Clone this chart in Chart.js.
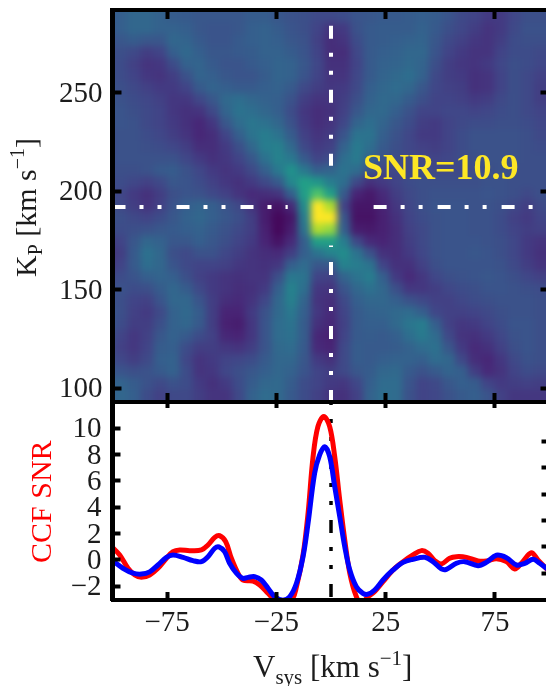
<!DOCTYPE html>
<html><head><meta charset="utf-8">
<script src="https://cdn.jsdelivr.net/npm/chart.js@4"></script>
<style>
html,body{margin:0;padding:0;background:#fff;width:546px;height:686px;overflow:hidden}
canvas{position:absolute;left:0}
#wrap{position:relative;width:546px;height:686px;overflow:hidden}
</style></head><body><div id="wrap">
<canvas id="lower" width="570" height="296" style="top:390px"></canvas>
<canvas id="upper" width="570" height="420" style="top:0"></canvas>
</div>
<script>
const kpRows=[294,288,282,276,270,264,258,252,246,240,234,228,222,216,210,204,198,192,186,180,174,168,162,156,150,144,138,132,126,120,114,108,102,96,90];
const vsysCols=[-102,-96,-90,-84,-78,-72,-66,-60,-54,-48,-42,-36,-30,-24,-18,-12,-6,0,6,12,18,24,30,36,42,48,54,60,66,72,78,84,90,96,102];
const heatLevels=[
[28,30,33,33,31,29,28,27,27,27,27,29,29,27,25,24,22,22,23,26,27,28,28,29,30,29,26,22,20,17,17,21,24,24,24],
[28,30,33,33,31,29,28,27,27,27,27,29,29,27,25,24,22,22,23,26,27,28,28,29,30,29,26,22,20,17,17,21,24,24,24],
[27,30,33,33,31,31,30,27,26,26,27,30,31,29,26,24,20,15,17,25,28,29,29,29,31,28,24,21,18,15,17,22,25,25,25],
[25,27,29,27,27,33,32,28,26,26,28,30,31,30,27,25,19,13,15,23,28,29,30,31,32,27,22,19,16,15,18,23,24,24,24],
[24,24,22,18,20,30,34,30,27,27,28,29,31,31,29,26,20,13,13,21,28,30,31,33,33,26,20,17,15,15,20,23,23,22,22],
[24,23,19,15,16,23,31,32,28,26,26,28,30,32,31,27,21,14,14,20,28,31,32,34,32,24,18,16,15,17,21,24,23,21,21],
[25,23,20,16,15,18,25,32,30,27,26,26,29,32,31,26,20,15,15,21,28,32,34,36,31,22,18,17,14,15,20,24,22,19,19],
[26,24,22,19,17,17,20,28,32,30,28,28,30,31,28,22,18,16,17,22,30,33,35,33,27,21,19,18,14,15,20,24,22,18,18],
[27,25,23,21,19,16,16,21,27,34,36,33,31,30,25,18,15,15,18,24,31,34,33,29,24,20,20,19,17,18,22,24,22,18,18],
[27,26,24,22,20,16,14,15,22,32,38,36,33,30,23,16,13,14,19,27,33,34,30,25,20,20,21,21,20,21,23,24,22,20,20],
[26,26,25,22,20,17,14,11,16,27,35,39,37,33,25,17,13,15,21,32,36,32,27,23,18,17,20,22,23,23,24,24,23,21,21],
[24,25,25,23,21,18,15,11,13,20,30,38,42,38,29,19,15,17,26,38,38,30,25,21,17,17,20,23,25,25,25,25,24,22,22],
[23,25,25,24,23,21,18,13,13,17,24,33,42,43,34,22,17,19,31,41,36,28,24,21,19,18,20,23,25,25,25,25,24,23,23],
[24,25,25,25,25,25,21,17,14,16,20,27,37,44,40,28,20,23,36,41,31,25,23,22,21,20,21,23,24,25,25,25,24,24,24],
[24,24,24,25,28,29,25,21,17,15,17,22,30,40,50,40,30,32,38,35,25,21,21,22,23,22,22,22,23,24,25,24,24,24,24],
[23,23,21,19,22,27,26,23,19,16,14,17,22,28,46,56,52,42,36,22,14,17,20,23,24,24,24,24,24,25,25,24,24,24,24],
[24,21,17,14,18,24,26,25,22,19,15,12,13,15,30,55,72,56,28,10,7,12,18,22,24,25,25,25,25,26,25,24,22,24,24],
[25,22,18,15,19,26,30,32,30,26,22,15,8,5,12,48,100,88,20,6,6,10,16,21,24,26,26,26,25,25,24,21,18,22,24],
[25,24,22,20,23,27,31,33,30,27,24,18,8,2,6,42,100,100,27,5,5,9,14,20,23,25,26,26,25,25,23,19,17,20,22],
[23,23,24,25,27,28,30,31,28,25,22,18,9,2,8,38,88,84,30,8,7,9,13,19,22,25,26,26,25,25,23,20,18,19,19],
[17,20,27,33,31,27,27,30,27,24,20,17,10,5,12,30,56,56,42,22,12,10,13,18,22,25,26,26,26,25,24,21,17,15,15],
[14,18,28,37,33,24,22,25,25,21,18,15,13,12,18,30,38,44,48,38,25,14,13,17,21,25,26,26,27,26,24,21,17,14,14],
[15,20,28,36,33,26,22,20,20,19,16,15,14,16,30,35,27,27,44,42,38,20,14,14,19,24,26,26,26,26,25,22,18,15,15],
[20,23,26,30,32,30,24,19,17,15,14,15,15,24,40,38,20,19,32,38,42,30,17,12,16,21,24,25,26,27,26,24,21,19,19],
[24,25,23,24,29,33,29,22,17,15,13,14,17,30,44,36,16,15,26,33,37,33,24,16,16,18,21,23,24,26,26,25,24,23,23],
[26,24,20,19,26,33,33,26,18,13,12,15,21,33,43,32,15,13,22,30,33,33,30,25,22,19,19,21,23,24,25,25,25,24,24],
[28,24,19,17,22,31,34,29,18,10,10,17,25,34,40,30,16,12,20,28,31,32,34,35,30,21,19,19,20,22,24,25,25,24,24],
[28,23,18,18,24,31,33,28,18,9,8,16,26,35,38,29,14,11,19,28,30,30,34,39,42,30,19,16,17,20,23,26,26,24,24],
[26,20,16,19,27,31,28,23,19,11,10,16,26,35,37,29,11,9,20,28,29,28,30,36,41,35,22,15,14,17,21,25,26,24,24],
[24,19,16,20,29,30,23,18,18,16,15,18,26,34,35,28,12,10,22,29,28,28,29,31,35,37,27,17,12,14,19,24,26,24,24],
[25,21,18,22,30,31,21,15,17,20,21,23,28,33,33,27,17,14,22,29,28,30,31,31,30,35,33,22,13,11,16,22,25,24,24],
[28,26,24,25,28,31,23,15,16,21,24,27,30,33,31,26,20,18,22,27,29,33,34,28,25,28,32,30,18,12,15,20,23,22,22],
[30,32,29,25,22,25,23,17,14,17,23,29,33,34,29,23,20,17,16,21,30,35,35,26,20,22,27,30,29,20,17,18,19,18,18],
[29,33,30,23,19,22,22,18,15,15,22,31,35,34,28,23,19,15,14,19,31,36,35,25,20,21,25,28,30,26,19,16,16,16,16],
[29,33,30,23,19,22,22,18,15,15,22,31,35,34,28,23,19,15,14,19,31,36,35,25,20,21,25,28,30,26,19,16,16,16,16]
];
const viridis=[[68,1,84],[72,36,117],[65,68,135],[53,95,141],[42,120,142],[33,145,140],[34,168,132],[68,191,112],[122,209,81],[189,223,38],[253,231,37]];
const kpTicks=[100,150,200,250];
const vsysTicks=[-75,-25,25,75];
const snrTicksLeft=[-2,0,2,4,6,8,10];
const snrTicksRight=[-1,1,3,5,7,9];
const crossKp=192, crossV=0;
const hLeftV=[-100,-19.8], hRightV=[19.5,100];
const vUpperKp=[284,212.9], vLowerKp=[172.5,93];
const redV=[-100,-96.7,-92.9,-89.8,-86.8,-83,-79.2,-75.3,-72.3,-69.2,-64.7,-59.3,-56.3,-53.2,-51,-48.2,-45.6,-42.6,-40.3,-35.7,-32.6,-28.8,-25.8,-23,-18,-15.8,-12.8,-10.5,-8.2,-6,-3.3,-0.6,1.7,4,6.3,8.6,11.6,13.9,16.9,20,23.8,28.4,33,37.5,41.4,44.4,47.5,50.5,54.3,57.4,62,67.3,71.1,75.7,80.3,84.1,87.1,91.7,94.7,100];
const redSnr=[0.95,0.38,-0.63,-1.14,-1.32,-1.14,-0.63,0.13,0.63,0.76,0.71,0.76,1.14,1.72,1.85,1.39,0.13,-1.0,-1.52,-1.6,-1.9,-2.53,-3.04,-3.3,-3.04,-2.03,0.38,3.55,7.85,10.13,10.89,10.13,7.85,4.56,1.52,-1.0,-2.79,-3.3,-2.79,-2.4,-1.65,-0.76,-0.13,0.38,0.71,0.51,-0.05,-0.3,0.13,0.25,0.2,-0.08,-0.08,0.1,-0.13,-0.68,-0.25,0.55,0,-0.9];
const blueV=[-100,-95.2,-90.6,-86.8,-83,-79.2,-75.3,-72.3,-67.7,-63.2,-59.3,-56.3,-53.2,-51.3,-48.7,-46.4,-43.3,-40.3,-38,-34.9,-31.9,-28.8,-25.8,-22,-18.9,-15.8,-12.8,-10.5,-7.5,-5.2,-2.9,-0.6,1.7,4,6.3,8.6,11.6,14.6,16.9,20,23.8,28.4,33,37.5,42.9,46.7,50.5,52.8,57.4,61.2,67.3,71.1,75.7,80.3,84.9,88.7,92.5,95.5,100];
const blueSnr=[-0.05,-0.63,-1.0,-1.07,-0.9,-0.38,0.2,0.38,0.2,-0.05,-0.13,0.25,0.89,1.0,0.63,-0.25,-1.0,-1.4,-1.32,-1.27,-1.52,-2.15,-2.79,-3.05,-2.79,-1.77,0.25,2.79,6.59,7.98,8.6,7.85,5.57,3.29,1.0,-0.76,-2.03,-2.53,-2.6,-2.28,-1.52,-0.76,-0.18,0.05,0.2,-0.13,-0.68,-0.71,-0.25,-0.13,-0.43,-0.18,0.36,0.17,-0.38,-0.25,0.05,-0.25,-0.8];
const snrLabel="SNR=10.9", ccfLabel="CCF SNR";
const kpTitleRuns=[["K",30,0],["P",20,6],[" [km s",30,0],["−1",20,-12],["]",30,0]];
const vsysTitleRuns=[["V",31,0],["sys",21,7],[" [km s",31,0],["−1",21,-12],["]",31,0]];

const SERIF='"Liberation Serif"', INK='#1c1c1c';
const DASH=[13,14,4,14,4,15];
function level2color(l){const t=Math.max(0,Math.min(100,l))/10,i=Math.min(9,Math.floor(t)),f=t-i,a=viridis[i],b=viridis[i+1];
 return `rgb(${a.map((c,k)=>Math.round(c+(b[k]-c)*f)).join(',')})`;}
const heatPoints=[];kpRows.forEach((k,r)=>vsysCols.forEach((v,c)=>heatPoints.push({x:v,y:k,l:heatLevels[r][c]})));
function pts(xs,ys){return xs.map((x,i)=>({x,y:ys[i]}));}
function runs(ctx,list,x,y,rot){ctx.save();ctx.translate(x,y);ctx.rotate(rot);ctx.fillStyle=INK;ctx.textAlign='left';ctx.textBaseline='alphabetic';let px=0;
 for(const [t,s,dy] of list){ctx.font=`${s}px ${SERIF}`;ctx.fillText(t,px,dy);px+=ctx.measureText(t).width;}ctx.restore();}
function fix(prop,val){return s=>{s[prop]=val;s.paddingTop=s.paddingBottom=s.paddingLeft=s.paddingRight=0;};}
function axis(pos,size,min,max,ticks,labels,tlen,pad){
 const horiz=pos==='top'||pos==='bottom';
 return {type:'linear',position:pos,min,max,afterFit:fix(horiz?'height':'width',size),
  afterBuildTicks:s=>{s.ticks=ticks.map(v=>({value:v}));},
  border:{display:true,color:'#000',width:horiz?4:5,z:1},
  grid:{display:true,drawOnChartArea:false,drawTicks:true,tickLength:-tlen,tickWidth:4,tickColor:'#000',z:1},
  ticks:{display:labels,z:1,autoSkip:false,maxRotation:0,minRotation:0,padding:pad,labelOffset:horiz?0:1.5,color:INK,font:{family:SERIF,size:29},callback:v=>String(v).replace('-','−')}};
}
const blurPlugin={id:'smooth',afterDatasetDraw(chart,args){
 if(args.index!==chart.data.datasets.length-1)return;
 const c=chart.canvas,ctx=chart.ctx,a=chart.chartArea,t=document.createElement('canvas');t.width=c.width;t.height=c.height;
 t.getContext('2d').drawImage(c,0,0);
 ctx.save();ctx.setTransform(1,0,0,1,0,0);ctx.clearRect(0,0,c.width,c.height);
 ctx.beginPath();ctx.rect(a.left,a.top,a.right-a.left,a.bottom-a.top);ctx.clip();ctx.filter='blur(3.5px)';ctx.drawImage(t,0,0);ctx.restore();}};
const upperText={id:'upperText',afterDraw(chart){const ctx=chart.ctx;
 ctx.save();ctx.fillStyle='#fde725';ctx.font=`bold 36px ${SERIF}`;ctx.textAlign='left';ctx.textBaseline='alphabetic';ctx.fillText(snrLabel,363,179);ctx.restore();
 runs(ctx,kpTitleRuns,36,277,-Math.PI/2);}};
const lowerText={id:'lowerText',afterDraw(chart){const ctx=chart.ctx;
 ctx.save();ctx.translate(51,563-390);ctx.rotate(-Math.PI/2);ctx.fillStyle='#ff0000';ctx.font=`30px ${SERIF}`;ctx.textAlign='left';ctx.textBaseline='alphabetic';ctx.fillText(ccfLabel,0,0);ctx.restore();
 runs(ctx,vsysTitleRuns,253,677-390,0);}};
function line(data,color,width,dash,off,extra){return Object.assign({type:'scatter',data,showLine:true,borderColor:color,borderWidth:width,pointRadius:0,pointHoverRadius:0,fill:false,borderDash:dash||[],borderDashOffset:off||0,borderCapStyle:'butt',tension:0},extra||{});}
new Chart(document.getElementById('upper'),{type:'scatter',plugins:[blurPlugin,upperText],
 data:{datasets:[
  line(pts(hLeftV,[crossKp,crossKp]),'#fff',4,DASH,0),
  line(pts(hRightV,[crossKp,crossKp]),'#fff',4,DASH,0),
  line(pts([crossV,crossV],vUpperKp),'#fff',4,DASH,0),
  line(pts([crossV,crossV],vLowerKp),'#fff',4,DASH,47.5),
  {type:'scatter',data:heatPoints,clip:false,pointStyle:'rect',pointRadius:10,pointHoverRadius:10,pointBorderWidth:0,borderWidth:0,
   pointBackgroundColor:c=>level2color(c.raw?c.raw.l:0)}
 ]},
 options:{responsive:false,animation:false,devicePixelRatio:1,events:[],layout:{padding:0},
  plugins:{legend:{display:false},tooltip:{enabled:false}},
  scales:{
   x:axis('bottom',18,-100,100,vsysTicks,false,9,0),
   xt:axis('top',8,-100,100,vsysTicks,false,9,0),
   y:axis('left',112.5,93,292,kpTicks,true,9,19),
   yr:axis('right',20.5,93,292,kpTicks,false,9,0)
  }}});
new Chart(document.getElementById('lower'),{type:'scatter',plugins:[lowerText],
 data:{datasets:[
  line(pts(blueV,blueSnr),'#0000ff',5,null,0,{tension:0.35}),
  line(pts(redV,redSnr),'#ff0000',5,null,0,{tension:0.35}),
  line(pts([crossV,crossV],[12,-3.04]),'#000',3.5,DASH,10)
 ]},
 options:{responsive:false,animation:false,devicePixelRatio:1,events:[],layout:{padding:0},
  plugins:{legend:{display:false},tooltip:{enabled:false}},
  scales:{
   x:axis('bottom',86,-100,100,vsysTicks,true,8,14),
   xt:axis('top',12,-100,100,vsysTicks,false,6,0),
   y:axis('left',112.5,-3.04,12,snrTicksLeft,true,8,19),
   yr:axis('right',20.5,-3.04,12,snrTicksRight,false,8,0)
  }}});
</script></body></html>
